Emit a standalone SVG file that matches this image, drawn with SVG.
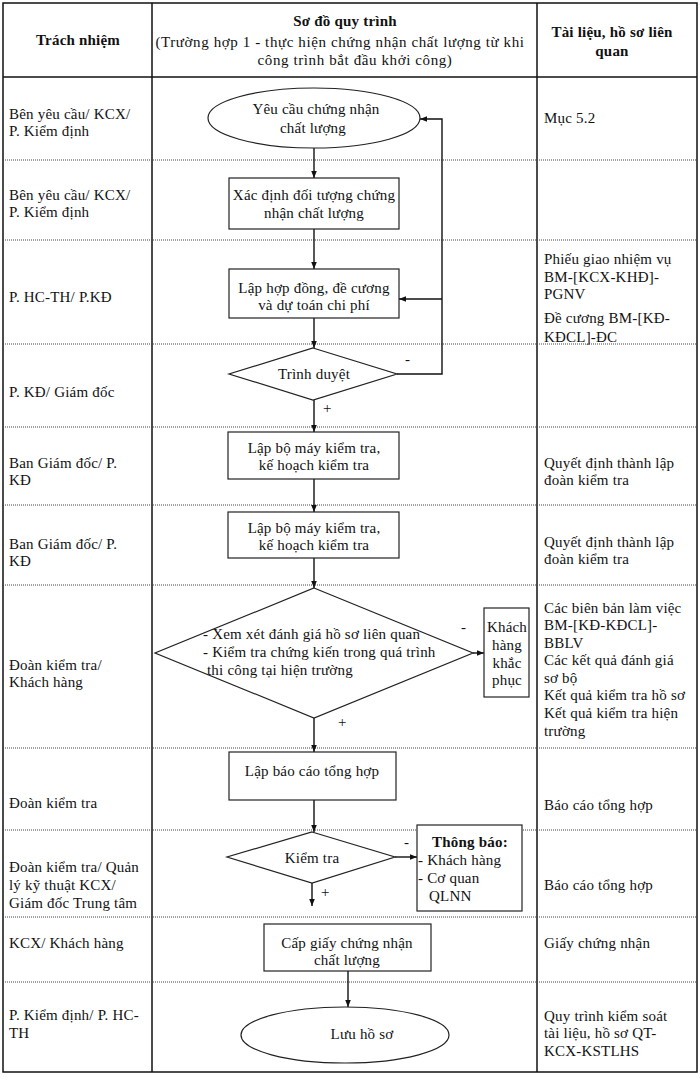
<svg xmlns="http://www.w3.org/2000/svg" width="700" height="1081" viewBox="0 0 700 1081">
<defs>
<marker id="ah" viewBox="0 0 10 10" refX="10" refY="5" markerWidth="7" markerHeight="7" orient="auto" markerUnits="userSpaceOnUse"><path d="M0,1 L10,5 L0,9 z" fill="#111"/></marker>
<style>
text{font-family:"Liberation Serif","Times New Roman",serif;font-size:15px;fill:#111;letter-spacing:0.2px}
.b{font-weight:bold}
.m{text-anchor:middle}
.w{letter-spacing:0.6px}
.grid{stroke:#111;stroke-width:1.5;fill:none}
.dot{stroke:#444;stroke-width:1;stroke-dasharray:1 1;fill:none}
.shape{stroke:#222;stroke-width:1.2;fill:#fff}
.con{stroke:#111;stroke-width:1.4;fill:none}
</style>
</defs>
<rect width="700" height="1081" fill="#fff"/>
<g id="table">
<rect class="grid" x="3" y="3" width="694" height="1069"/>
<line class="grid" x1="152" y1="3" x2="152" y2="1072"/>
<line class="grid" x1="537" y1="3" x2="537" y2="1072"/>
<line class="grid" x1="3" y1="77" x2="697" y2="77"/>
<line class="dot" x1="3" y1="160" x2="697" y2="160"/>
<line class="dot" x1="3" y1="240" x2="697" y2="240"/>
<line class="dot" x1="3" y1="344" x2="697" y2="344"/>
<line class="dot" x1="3" y1="427" x2="697" y2="427"/>
<line class="dot" x1="3" y1="505" x2="697" y2="505"/>
<line class="dot" x1="3" y1="585" x2="697" y2="585"/>
<line class="dot" x1="3" y1="748" x2="697" y2="748"/>
<line class="dot" x1="3" y1="830" x2="697" y2="830"/>
<line class="dot" x1="3" y1="917" x2="697" y2="917"/>
<line class="dot" x1="3" y1="982" x2="697" y2="982"/>
</g>
<g id="header">
<text class="b m" x="78" y="45">Trách nhiệm</text>
<text class="b m" x="345" y="26">Sơ đồ quy trình</text>
<text class="m w" x="340" y="47">(Trường hợp 1 - thực hiện chứng nhận chất lượng từ khi</text>
<text class="m w" x="355" y="65">công trình bắt đầu khởi công)</text>
<text class="b m" x="612" y="37">Tài liệu, hồ sơ liên</text>
<text class="b m" x="612" y="56">quan</text>
</g>
<g id="responsibility">
<text x="9" y="119">Bên yêu cầu/ KCX/</text>
<text x="9" y="136">P. Kiểm định</text>
<text x="9" y="200">Bên yêu cầu/ KCX/</text>
<text x="9" y="217">P. Kiểm định</text>
<text x="9" y="302">P. HC-TH/ P.KĐ</text>
<text x="9" y="397">P. KĐ/ Giám đốc</text>
<text x="9" y="468">Ban Giám đốc/ P.</text>
<text x="9" y="485">KĐ</text>
<text x="9" y="549">Ban Giám đốc/ P.</text>
<text x="9" y="566">KĐ</text>
<text x="9" y="670">Đoàn kiểm tra/</text>
<text x="9" y="687">Khách hàng</text>
<text x="9" y="808">Đoàn kiểm tra</text>
<text x="9" y="872">Đoàn kiểm tra/ Quản</text>
<text x="9" y="890">lý kỹ thuật KCX/</text>
<text x="9" y="908">Giám đốc Trung tâm</text>
<text x="9" y="948">KCX/ Khách hàng</text>
<text x="9" y="1020">P. Kiểm định/ P. HC-</text>
<text x="9" y="1038">TH</text>
</g>
<g id="documents">
<text x="544" y="123">Mục 5.2</text>
<text x="544" y="264">Phiếu giao nhiệm vụ</text>
<text x="544" y="282">BM-[KCX-KHĐ]-</text>
<text x="544" y="299">PGNV</text>
<text x="544" y="323">Đề cương BM-[KĐ-</text>
<text x="544" y="342">KĐCL]-ĐC</text>
<text x="544" y="468">Quyết định thành lập</text>
<text x="544" y="485">đoàn kiểm tra</text>
<text x="544" y="547">Quyết định thành lập</text>
<text x="544" y="564">đoàn kiểm tra</text>
<text x="544" y="613">Các biên bản làm việc</text>
<text x="544" y="630">BM-[KĐ-KĐCL]-</text>
<text x="544" y="648">BBLV</text>
<text x="544" y="665">Các kết quả đánh giá</text>
<text x="544" y="683">sơ bộ</text>
<text x="544" y="700">Kết quả kiểm tra hồ sơ</text>
<text x="544" y="718">Kết quả kiểm tra hiện</text>
<text x="544" y="736">trường</text>
<text x="544" y="810">Báo cáo tổng hợp</text>
<text x="544" y="890">Báo cáo tổng hợp</text>
<text x="544" y="948">Giấy chứng nhận</text>
<text x="544" y="1021">Quy trình kiểm soát</text>
<text x="544" y="1038">tài liệu, hồ sơ QT-</text>
<text x="544" y="1056">KCX-KSTLHS</text>
</g>
<g id="connectors">
<line class="con" x1="314" y1="148" x2="314" y2="178" marker-end="url(#ah)"/>
<line class="con" x1="314" y1="229" x2="314" y2="269" marker-end="url(#ah)"/>
<line class="con" x1="314" y1="318" x2="314" y2="348" marker-end="url(#ah)"/>
<line class="con" x1="314" y1="400" x2="314" y2="432" marker-end="url(#ah)"/>
<line class="con" x1="314" y1="479" x2="314" y2="512" marker-end="url(#ah)"/>
<line class="con" x1="314" y1="558" x2="314" y2="588" marker-end="url(#ah)"/>
<line class="con" x1="314" y1="718" x2="314" y2="752" marker-end="url(#ah)"/>
<line class="con" x1="314" y1="800" x2="314" y2="832" marker-end="url(#ah)"/>
<line class="con" x1="312" y1="883" x2="312" y2="906" marker-end="url(#ah)"/>
<line class="con" x1="348" y1="971" x2="348" y2="1007" marker-end="url(#ah)"/>
<line class="con" x1="473" y1="653" x2="484" y2="653" marker-end="url(#ah)"/>
<line class="con" x1="395" y1="857" x2="417" y2="857" marker-end="url(#ah)"/>
<path class="con" d="M397,374 H442 V119 H420" marker-end="url(#ah)"/>
<path class="con" d="M442,299 H399" marker-end="url(#ah)"/>
<text x="405" y="364">-</text>
<text x="323" y="413">+</text>
<text x="461" y="632">-</text>
<text x="338" y="727">+</text>
<text x="404" y="847">-</text>
<text x="321" y="897">+</text>
</g>
<g id="n1">
<ellipse class="shape" cx="314" cy="118" rx="106" ry="30"/>
<text class="m" x="316" y="114">Yêu cầu chứng nhận</text>
<text class="m" x="313" y="133">chất lượng</text>
</g>
<g id="n2">
<rect class="shape" x="229" y="178" width="170" height="51"/>
<text class="m" x="314" y="200">Xác định đối tượng chứng</text>
<text class="m" x="314" y="218">nhận chất lượng</text>
</g>
<g id="n3">
<rect class="shape" x="229" y="269" width="170" height="49"/>
<text class="m" x="314" y="293">Lập hợp đồng, đề cương</text>
<text class="m" x="314" y="310">và dự toán chi phí</text>
</g>
<g id="n4">
<polygon class="shape" points="313,348 397,374 313,400 229,374"/>
<text class="m" x="314" y="379">Trình duyệt</text>
</g>
<g id="n5">
<rect class="shape" x="228" y="432" width="171" height="47"/>
<text class="m" x="314" y="453">Lập bộ máy kiểm tra,</text>
<text class="m" x="314" y="470">kế hoạch kiểm tra</text>
</g>
<g id="n6">
<rect class="shape" x="228" y="512" width="171" height="46"/>
<text class="m" x="314" y="533">Lập bộ máy kiểm tra,</text>
<text class="m" x="314" y="550">kế hoạch kiểm tra</text>
</g>
<g id="n7">
<polygon class="shape" points="314,588 473,653 314,718 155,653"/>
<text x="203" y="639">- Xem xét đánh giá hồ sơ liên quan</text>
<text x="203" y="657">- Kiểm tra chứng kiến trong quá trình</text>
<text x="207" y="675">thi công tại hiện trường</text>
</g>
<g id="n7b">
<rect class="shape" x="484" y="608" width="45" height="89"/>
<text class="m" x="507" y="632">Khách</text>
<text class="m" x="507" y="650">hàng</text>
<text class="m" x="507" y="668">khắc</text>
<text class="m" x="507" y="685">phục</text>
</g>
<g id="n8">
<rect class="shape" x="229" y="752" width="167" height="48"/>
<text class="m" x="312" y="776">Lập báo cáo tổng hợp</text>
</g>
<g id="n9">
<polygon class="shape" points="312,832 395,857 312,883 227,857"/>
<text class="m" x="312" y="863">Kiểm tra</text>
</g>
<g id="n9b">
<rect class="shape" x="417" y="825" width="105" height="86"/>
<text class="b m" x="470" y="847">Thông báo:</text>
<text x="418" y="865">- Khách hàng</text>
<text x="418" y="883">- Cơ quan</text>
<text x="429" y="901">QLNN</text>
</g>
<g id="n10">
<rect class="shape" x="264" y="924" width="167" height="47"/>
<text class="m" x="347" y="948">Cấp giấy chứng nhận</text>
<text class="m" x="347" y="965">chất lượng</text>
</g>
<g id="n11">
<ellipse class="shape" cx="345" cy="1035" rx="104" ry="28"/>
<text class="m" x="362" y="1039">Lưu hồ sơ</text>
</g>
</svg>
